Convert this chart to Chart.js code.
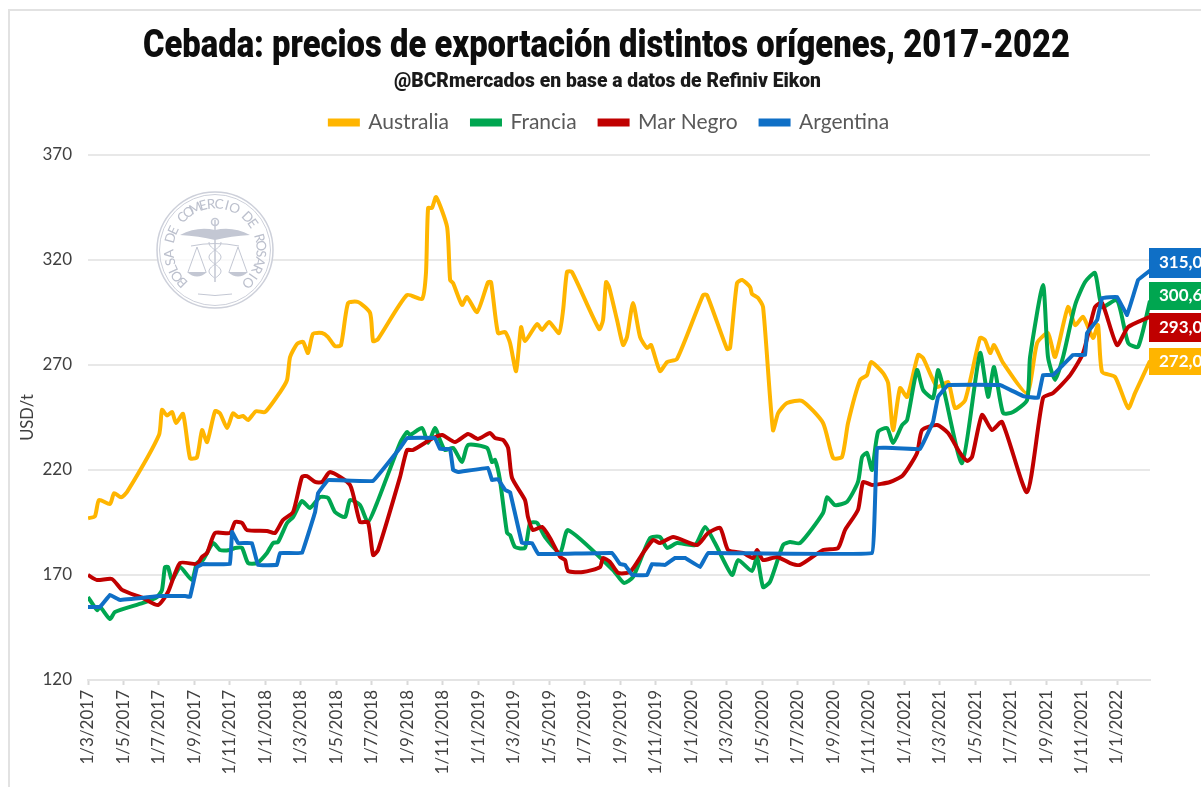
<!DOCTYPE html>
<html lang="es">
<head>
<meta charset="utf-8">
<title>Cebada: precios de exportación</title>
<script src="https://cdn.jsdelivr.net/npm/chart.js@4"></script>
<style>
    html, body { margin: 0; padding: 0; background: #fff; overflow: hidden; }
    canvas { display: block; filter: blur(0.55px); }
</style>
</head>
<body>
<canvas id="chartCebada" width="1201" height="787"></canvas>
<script>
// Eje x en meses contados desde 1/3/2017
const etiquetasFecha = ['1/3/2017', '1/5/2017', '1/7/2017', '1/9/2017', '1/11/2017',
    '1/1/2018', '1/3/2018', '1/5/2018', '1/7/2018', '1/9/2018', '1/11/2018',
    '1/1/2019', '1/3/2019', '1/5/2019', '1/7/2019', '1/9/2019', '1/11/2019',
    '1/1/2020', '1/3/2020', '1/5/2020', '1/7/2020', '1/9/2020', '1/11/2020',
    '1/1/2021', '1/3/2021', '1/5/2021', '1/7/2021', '1/9/2021', '1/11/2021',
    '1/1/2022'];

// Valores
const australiaMes = [0, .39, .62, 1.24, 1.47, 1.86, 2.2, 4, 4.17, 4.45, 4.74, 4.96, 5.36, 5.75, 6.14, 6.43, 6.71, 7.16, 7.44, 7.84, 8.17, 8.46, 8.74, 9.02, 9.47, 9.98, 10.82, 11.22, 11.39, 11.78, 12.12, 12.4, 12.68, 13.19, 13.53, 13.92, 14.26, 14.66, 15.22, 15.9, 16.07, 16.35, 17.98, 18.83, 19.05, 19.17, 19.39, 19.62, 20.24, 20.41, 20.58, 21.08, 21.36, 21.93, 22.55, 22.72, 23.11, 23.51, 23.79, 24.13, 24.41, 24.63, 25.31, 25.59, 25.99, 26.55, 26.78, 27, 27.28, 28.81, 29.03, 29.2, 29.37, 29.82, 30.16, 30.38, 30.72, 31.12, 31.51, 31.74, 32.24, 32.64, 33.2, 34.67, 34.89, 36.02, 36.19, 36.58, 36.87, 37.32, 37.43, 37.77, 38.05, 38.61, 38.9, 39.4, 40.25, 41.43, 42, 42.5, 42.84, 43.52, 43.91, 44.14, 44.81, 45.1, 45.38, 45.77, 46.17, 46.79, 47.07, 47.86, 48.48, 48.87, 49.44, 50.28, 50.56, 50.85, 51.07, 51.58, 52.93, 53.5, 54.11, 54.51, 55.24, 55.64, 56.09, 56.65, 56.93, 57.16, 57.89, 58.63, 59.02, 59.86];
const australia = [197, 198, 205.7, 203.8, 209, 207, 209.5, 236.7, 248.6, 246, 247.6, 242.4, 246.7, 225.7, 226, 239, 233.3, 248, 247, 240, 247, 245.2, 245.7, 243.8, 248, 247.6, 257, 262.9, 273.8, 280, 281, 275.7, 284.8, 285.2, 283.3, 279, 279.5, 299.5, 300, 294.8, 281.4, 282.4, 303.3, 301.4, 313.8, 344.8, 344.8, 350, 335.7, 310.5, 309, 298.6, 302.4, 295.2, 309.5, 309.5, 285.2, 285.7, 280.5, 267.1, 288, 281.4, 289.5, 286.7, 290.5, 285.2, 296.2, 314.3, 314.3, 287.1, 291.4, 309.5, 307.1, 291.4, 279.5, 283.3, 299.5, 283.3, 278.1, 279.5, 267.1, 271.4, 272.9, 303.3, 303.3, 277.6, 278.1, 309, 310.5, 307.1, 303.8, 301.9, 297.6, 239, 247.1, 251.9, 252.9, 242.4, 225.7, 226.2, 242.4, 262.9, 265.2, 271.4, 266.2, 261.4, 239, 259, 254.8, 274.8, 273.3, 259.5, 261.9, 249.5, 253.3, 282.9, 281.9, 275.7, 279.5, 271, 256.7, 280.5, 285.2, 273.8, 297.6, 289, 292.9, 282.9, 289, 266.7, 264.3, 249.5, 256.7, 272];

const franciaMes = [0, .51, .68, 1.24, 1.52, 3.1, 3.89, 4.17, 4.34, 4.51, 4.74, 5.19, 5.86, 6.14, 6.48, 7.05, 7.44, 8, 8.29, 8.68, 9.02, 9.53, 10.09, 10.43, 10.71, 11.22, 11.56, 12.06, 12.51, 13.08, 13.53, 13.92, 14.49, 14.77, 15.33, 15.78, 16.29, 17.59, 17.98, 18.15, 18.83, 19.17, 19.56, 19.84, 20.12, 20.58, 21.08, 21.42, 22.49, 22.77, 22.94, 23.22, 23.62, 23.79, 24.07, 24.63, 24.92, 25.31, 25.76, 26.61, 27.06, 29.59, 30.21, 30.72, 31.68, 32.24, 32.64, 33.2, 34.22, 34.78, 35.34, 36.3, 36.64, 37.43, 37.71, 38.05, 38.44, 39.18, 39.57, 40.14, 41.43, 41.66, 42.11, 42.78, 43.4, 43.63, 43.91, 44.19, 44.53, 45.04, 45.38, 45.89, 46.17, 46.73, 47.07, 47.63, 47.91, 48.2, 49.27, 50.28, 50.73, 51.07, 51.58, 52.14, 52.93, 53.1, 53.83, 54.11, 54.51, 54.96, 55.64, 56.2, 56.76, 57.16, 58, 58.63, 59.19, 59.86];
const francia = [159.5, 153.3, 154.8, 149, 152.4, 156.7, 159.5, 162.9, 173.8, 173.8, 167.6, 173.8, 167.6, 175.7, 177.1, 185.2, 181.9, 181.9, 182.9, 182.9, 175.7, 175.7, 180.5, 185.2, 185.7, 194.8, 197.6, 205.2, 201.9, 207.1, 206.7, 200, 197.6, 205.7, 203.3, 195.2, 204.3, 232.9, 238.1, 236.7, 240, 232.9, 240, 234.3, 229.5, 230.5, 223.8, 231.9, 230.5, 223.8, 224.8, 215.2, 190, 189, 183.3, 182.9, 194.8, 194.8, 188.1, 180.5, 191.4, 172.4, 166.2, 169, 187.6, 188.1, 182.9, 185.2, 184.3, 192.9, 185.2, 170, 177.1, 171.9, 178.6, 164.3, 166.7, 184.3, 185.7, 185.2, 199.5, 207.1, 203.3, 204.8, 214.3, 226.2, 228.1, 220, 238.1, 240, 232.9, 241.4, 243.8, 267.6, 258.1, 254.3, 267.6, 259.5, 223.3, 275.7, 254.8, 269, 247.1, 247.6, 253.3, 273.8, 308.1, 273.8, 262.9, 273.8, 298.6, 309.5, 313.8, 297.6, 301, 280.5, 278.6, 300.6];

const marNegroMes = [0, .51, 1.35, 1.92, 3.1, 3.95, 4.51, 5.19, 6.14, 6.43, 6.71, 7.16, 8, 8.29, 8.68, 8.96, 10.09, 10.54, 10.99, 11.56, 12.06, 12.34, 12.8, 13.19, 13.64, 14.77, 15.33, 15.78, 16.07, 16.35, 17.59, 17.98, 18.32, 19.45, 19.96, 20.69, 21.42, 21.98, 22.66, 22.94, 23.39, 23.68, 23.9, 24.63, 24.8, 25.08, 25.59, 26.04, 26.61, 26.89, 27.06, 27.9, 28.86, 29.03, 29.42, 29.88, 30.55, 31.29, 31.85, 32.24, 32.98, 34.33, 34.95, 35.63, 36.08, 36.92, 37.49, 37.71, 38.05, 38.84, 39.57, 40.14, 41.43, 42.28, 42.67, 43.4, 43.69, 44.19, 45.21, 45.94, 46.73, 47.01, 47.86, 48.48, 49.15, 49.55, 49.83, 50.39, 50.96, 51.52, 52.93, 53.83, 54.4, 55.36, 56.09, 56.76, 57.16, 58, 58.63, 59.86];
const marNegro = [170, 167.6, 168.1, 162.9, 159, 155.7, 161.9, 175.7, 175.2, 178.6, 180.5, 190, 190, 195.2, 194.8, 191.4, 191, 190, 196.2, 200, 216.7, 217.1, 214.3, 214.3, 219, 212.9, 195.2, 195.2, 179.5, 181.9, 216.7, 229.5, 229.5, 235.2, 236.7, 233.3, 237.1, 234.8, 237.6, 235.2, 234.3, 230.5, 216.2, 205.7, 197.6, 191.4, 192.9, 187.6, 178.6, 177.1, 171.9, 171.4, 173.8, 178.1, 176.2, 171, 171.4, 180.5, 186.7, 185.2, 188.1, 184.3, 190, 192.4, 181.9, 180.5, 178.1, 181.9, 177.1, 178.6, 175.7, 174.8, 181.9, 182.9, 191.4, 201, 214.3, 212.9, 214.3, 217.6, 228.1, 239, 241.4, 237.6, 228.1, 224.3, 226.2, 246.2, 239, 242.9, 209.5, 254.3, 256.7, 265.2, 275.7, 297.6, 299.5, 279.5, 288.1, 293];

const argentinaMes = [0, .68, 1.24, 1.8, 4.06, 5.47, 5.75, 6.14, 6.48, 8, 8.12, 8.46, 9.24, 9.58, 10.65, 10.82, 12.06, 12.8, 12.97, 13.53, 16.07, 17.59, 17.98, 19.56, 19.84, 20.41, 20.58, 20.86, 22.55, 22.77, 23.11, 23.51, 23.79, 24.46, 25.03, 25.37, 29.54, 29.99, 30.27, 30.67, 31.51, 31.79, 32.53, 33.09, 33.65, 34.5, 34.95, 44.19, 44.48, 46.9, 47.63, 47.91, 48.48, 51.41, 52.71, 53.55, 53.83, 54.4, 55.52, 56.2, 56.31, 56.88, 57.16, 58, 58.57, 59.19, 59.86];
const argentina = [154.8, 154.8, 160.5, 158.1, 160, 160, 159.5, 173.8, 175.2, 175.2, 190.5, 185.2, 185.2, 174.8, 174.8, 180.5, 180.5, 200, 209, 215.2, 214.8, 230.5, 235.2, 235.2, 230, 230, 220, 219, 221, 215.2, 215.7, 210.5, 209.5, 185.2, 185.2, 180, 180.5, 175.2, 174.8, 170, 170, 175.2, 174.8, 178.1, 178.1, 173.8, 180.5, 180.5, 230.5, 230, 242.9, 254.8, 260.5, 260.5, 255.2, 254.3, 265.2, 265.2, 274.8, 274.8, 285.2, 291.4, 301.9, 302.4, 293.8, 310.5, 315];

const AMARILLO = '#FFB500';
const VERDE = '#00A650';
const ROJO = '#C00000';
const AZUL = '#0F6FC6';

function serie(nombre, meses, valores, color, orden, curva) {
    return {
        label: nombre,
        data: meses.map((m, i) => ({ x: m, y: valores[i] })),
        borderColor: color,
        backgroundColor: color,
        borderWidth: 4,
        pointRadius: 0,
        tension: curva,
        order: orden
    };
}

// Etiquetas de ultimo valor, pegadas al borde derecho
const cajasValor = [
    { texto: '315,00', color: AZUL, arriba: 248, alto: 30 },
    { texto: '300,60', color: VERDE, arriba: 282, alto: 28 },
    { texto: '293,00', color: ROJO, arriba: 313, alto: 29 },
    { texto: '272,00', color: AMARILLO, arriba: 348, alto: 27 }
];

const pluginCajas = {
    id: 'cajasValor',
    afterDraw(chart) {
        const c = chart.ctx;
        c.save();
        cajasValor.forEach(b => {
            c.fillStyle = b.color;
            c.fillRect(1149, b.arriba, 52, b.alto);
            c.fillStyle = '#fff';
            c.font = 'bold 17px Lato';
            c.textBaseline = 'middle';
            c.textAlign = 'left';
            c.fillText(b.texto, 1159, b.arriba + b.alto / 2);
        });
        c.restore();
    }
};

// Texto comprimido al ancho pedido, no hay fuente condensada instalada
function textoAjustado(c, texto, fuente, centro, base, ancho, color) {
    c.save();
    c.font = fuente;
    c.fillStyle = color;
    c.textAlign = 'center';
    c.textBaseline = 'alphabetic';
    c.translate(centro, base);
    c.scale(ancho / c.measureText(texto).width, 1);
    c.fillText(texto, 0, 0);
    c.restore();
}

// Titulos y marco gris de la captura original
const pluginMarco = {
    id: 'marco',
    beforeDraw(chart) {
        const c = chart.ctx;
        c.save();
        c.fillStyle = '#e2e2e2';
        c.fillRect(8, 9, 1193, 2);
        c.fillRect(8, 9, 2, 778);
        c.restore();
        textoAjustado(c, 'Cebada: precios de exportación distintos orígenes, 2017-2022',
            '900 38px Roboto', 606.5, 57, 927, '#0d0d0d');
        textoAjustado(c, '@BCRmercados en base a datos de Refiniv Eikon',
            '900 20px Roboto', 607.5, 87, 427, '#1a1a1a');
    }
};

// Sello de agua de la Bolsa
const pluginSello = {
    id: 'sello',
    beforeDatasetsDraw(chart) {
        const c = chart.ctx;
        const cx = 215, cy = 250;
        c.save();
        c.translate(cx, cy);
        c.strokeStyle = '#cdd0da';
        c.fillStyle = 'rgba(255,255,255,0.75)';
        c.lineWidth = 1.5;
        c.beginPath(); c.arc(0, 0, 58, 0, Math.PI * 2); c.fill(); c.stroke();
        c.lineWidth = 1;
        c.beginPath(); c.arc(0, 0, 55.5, 0, Math.PI * 2); c.stroke();

        // texto en arco
        const lema = 'BOLSA DE COMERCIO DE ROSARIO';
        c.fillStyle = '#bcc0cd';
        c.font = '13.5px Lato';
        c.textAlign = 'center';
        c.textBaseline = 'middle';
        const desde = -2.35, hasta = 2.35;
        for (let i = 0; i < lema.length; i++) {
            const a = desde + (hasta - desde) * i / (lema.length - 1);
            c.save();
            c.rotate(a);
            c.translate(0, -46);
            c.fillText(lema[i], 0, 0);
            c.restore();
        }

        // alas, caduceo y balanzas
        c.strokeStyle = '#c3c7d3';
        c.fillStyle = '#c3c7d3';
        c.lineWidth = 1;
        c.beginPath();
        c.moveTo(0, -20); c.quadraticCurveTo(-18, -24, -35, -15); c.quadraticCurveTo(-16, -14, 0, -10);
        c.quadraticCurveTo(16, -14, 35, -15); c.quadraticCurveTo(18, -24, 0, -20);
        c.fill();
        c.lineWidth = 1.5;
        c.beginPath(); c.moveTo(0, -30); c.lineTo(0, 32); c.stroke();
        c.beginPath(); c.arc(0, -28, 3.5, 0, Math.PI * 2); c.stroke();
        c.lineWidth = 1;
        c.beginPath();
        for (let y = -8; y <= 28; y += 1) {
            const x = 6 * Math.sin(y / 4.5);
            if (y === -8) c.moveTo(x, y); else c.lineTo(x, y);
        }
        c.stroke();
        c.beginPath();
        for (let y = -8; y <= 28; y += 1) {
            const x = -6 * Math.sin(y / 4.5);
            if (y === -8) c.moveTo(x, y); else c.lineTo(x, y);
        }
        c.stroke();
        c.beginPath(); c.moveTo(-24, -4); c.quadraticCurveTo(0, -9, 24, -4); c.stroke();
        [-18, 23].forEach(dx => {
            c.beginPath();
            c.moveTo(dx, -3); c.lineTo(dx - 9, 22); c.moveTo(dx, -3); c.lineTo(dx + 9, 22);
            c.stroke();
            c.beginPath();
            c.moveTo(dx - 10, 22); c.quadraticCurveTo(dx, 31, dx + 10, 22); c.closePath();
            c.fill();
        });
        c.beginPath(); c.moveTo(-17, 44); c.quadraticCurveTo(0, 47, 17, 44); c.stroke();
        c.restore();
    }
};

new Chart(document.getElementById('chartCebada').getContext('2d'), {
    type: 'line',
    data: {
        datasets: [
            serie('Australia', australiaMes, australia, AMARILLO, 4, 0.2),
            serie('Francia', franciaMes, francia, VERDE, 3, 0.2),
            serie('Mar Negro', marNegroMes, marNegro, ROJO, 2, 0.2),
            serie('Argentina', argentinaMes, argentina, AZUL, 1, 0.04)
        ]
    },
    plugins: [pluginMarco, pluginSello, pluginCajas],
    options: {
        responsive: false,
        animation: false,
        layout: { padding: { left: 18, top: 89 } },
        plugins: {
            legend: {
                position: 'top',
                labels: {
                    boxWidth: 28,
                    boxHeight: 4,
                    padding: 23,
                    color: '#595959',
                    font: { family: 'Lato', size: 21 },
                    sort: (a, b) => a.datasetIndex - b.datasetIndex
                }
            },
            tooltip: { enabled: false }
        },
        scales: {
            x: {
                type: 'linear',
                min: 0,
                max: 59.86,
                afterBuildTicks(ax) {
                    ax.ticks = etiquetasFecha.map((t, i) => ({ value: i * 2 }));
                },
                afterFit(ax) { ax.height = 107; },
                grid: {
                    drawOnChartArea: false,
                    tickLength: 5,
                    tickColor: '#d9d9d9',
                    tickWidth: 2
                },
                border: { color: '#e4e4e4', width: 2 },
                ticks: {
                    autoSkip: false,
                    minRotation: 90,
                    maxRotation: 90,
                    padding: 5,
                    color: '#404040',
                    font: { family: 'Lato', size: 17 },
                    callback: v => etiquetasFecha[v / 2]
                }
            },
            y: {
                min: 120,
                max: 370,
                afterFit(ax) { ax.width = 70; },
                title: {
                    display: true,
                    text: 'USD/t',
                    color: '#404040',
                    font: { family: 'Lato', size: 16.5 },
                    padding: { top: 0, bottom: 0 }
                },
                grid: { color: '#e8e8e8', lineWidth: 2, drawTicks: false },
                border: { display: false },
                ticks: {
                    stepSize: 50,
                    padding: 16,
                    color: '#404040',
                    font: { family: 'Lato', size: 17 }
                }
            },
            // ejes vacios que solo reservan espacio arriba y a la derecha
            derecha: {
                position: 'right',
                min: 120,
                max: 370,
                afterFit(ax) { ax.width = 51; },
                grid: { display: false },
                border: { display: false },
                ticks: { display: false }
            },
            arriba: {
                axis: 'x',
                type: 'linear',
                position: 'top',
                afterFit(ax) { ax.height = 12; },
                grid: { display: false },
                border: { display: false },
                ticks: { display: false }
            }
        }
    }
});
</script>
</body>
</html>
